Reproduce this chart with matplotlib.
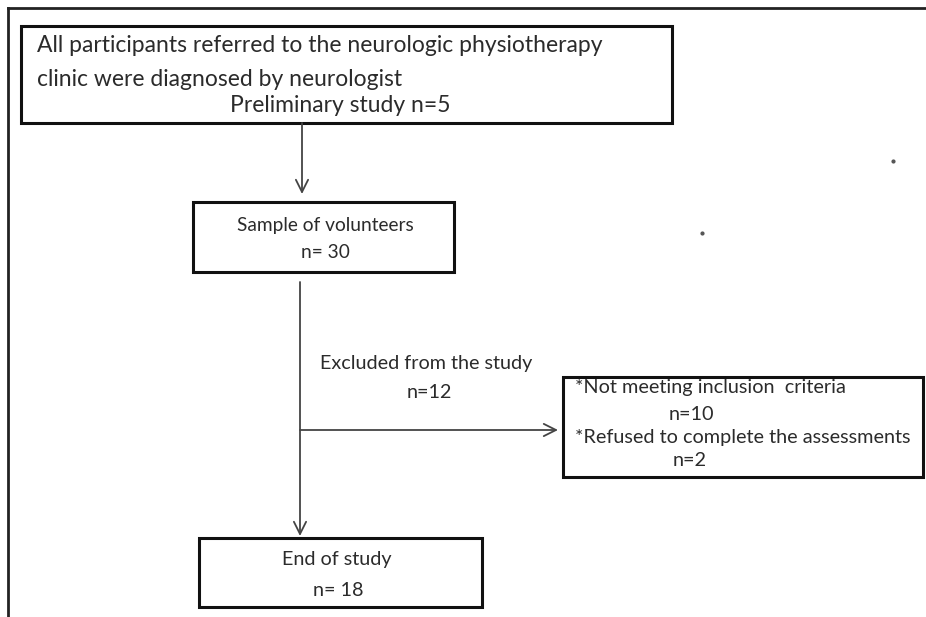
import matplotlib.pyplot as plt
from matplotlib.patches import Rectangle

plt.rcParams['font.family'] = ['Lato', 'DejaVu Sans']

# flowchart content
intro_lines = ['All participants referred to the neurologic physiotherapy',
               'clinic were diagnosed by neurologist']
preliminary_n = 5
sample_label = 'Sample of volunteers'
sample_n = 30
excluded_label = 'Excluded from the study'
excluded_n = 12
reasons = ['*Not meeting inclusion  criteria', '*Refused to complete the assessments']
reason_n = [10, 2]
end_label = 'End of study'
end_n = 18

txt = '#2b2b2b'

fig = plt.figure(figsize=(9.26, 6.17), dpi=100)
ax = fig.add_axes([0, 0, 1, 1])
ax.set_xlim(0, 926)
ax.set_ylim(617, 0)
ax.axis('off')

# outer frame (top and left edges)
ax.plot([8, 926], [8, 8], color='#222222', lw=2)
ax.plot([8, 8], [8, 617], color='#222222', lw=2)

def box(x0, y0, x1, y1):
    ax.add_patch(Rectangle((x0, y0), x1 - x0, y1 - y0, fill=False,
                           edgecolor='#111111', lw=2.2))

def arrow(x0, y0, x1, y1):
    ax.annotate('', xy=(x1, y1), xytext=(x0, y0),
                arrowprops=dict(arrowstyle='->', color='#444444', lw=1.3,
                                mutation_scale=22, shrinkA=0, shrinkB=0))

def label(x, y, s, fs, ha='center'):
    ax.text(x, y, s, fontsize=fs, color=txt, va='center', ha=ha)

# box 1
box(21, 26, 672, 123)
label(37, 46, intro_lines[0], 16.5, ha='left')
label(37, 79, intro_lines[1], 16.5, ha='left')
label(340, 106, 'Preliminary study n=%d' % preliminary_n, 16.5)

arrow(302, 123, 302, 194)

# box 2
box(193, 202, 454, 272)
label(325, 226, sample_label, 13.8)
label(325, 252, 'n= %d' % sample_n, 13.8)

# main vertical line and exclusion branch
arrow(300, 282, 300, 536)
arrow(300, 430, 558, 430)
label(426, 363, excluded_label, 14.2)
label(429, 392, 'n=%d' % excluded_n, 14.2)

# box 3
box(563, 377, 923, 477)
label(575, 388, reasons[0], 14.3, ha='left')
label(691, 414, 'n=%d' % reason_n[0], 14.3)
label(575, 438, reasons[1], 14.3, ha='left')
label(690, 460, 'n=%d' % reason_n[1], 14.3)

# box 4
box(199, 538, 482, 607)
label(337, 560, end_label, 14.2)
label(338, 590, 'n= %d' % end_n, 14.2)

# stray dots
ax.plot([893, 702], [161, 233], 'o', color='#555555', ms=2)

fig.savefig('out.png', dpi=100, facecolor='white')
